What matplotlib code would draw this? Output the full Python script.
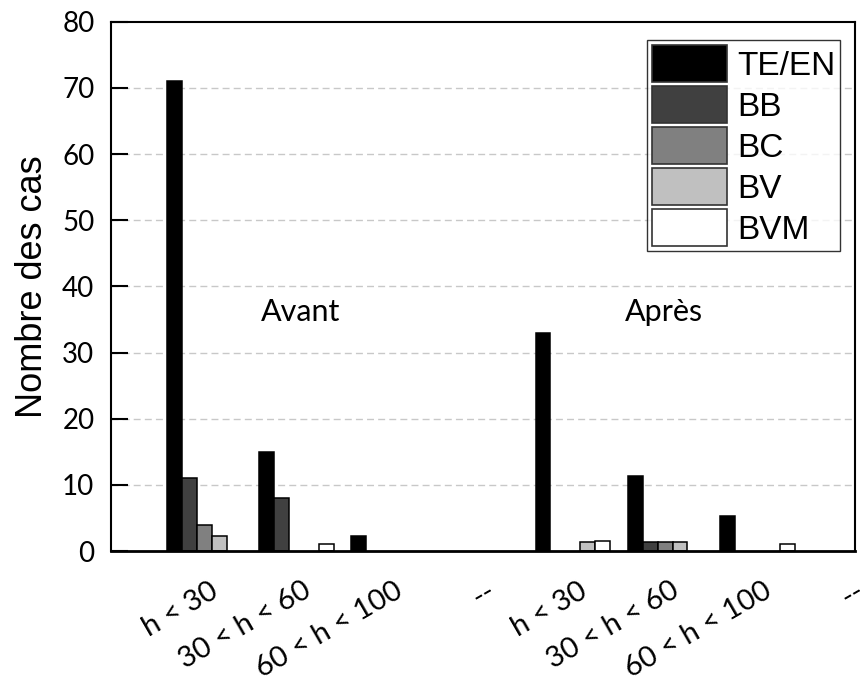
import matplotlib
matplotlib.use("Agg")
import matplotlib.pyplot as plt
import numpy as np

# categories (two periods, separated by a "--" gap group)
categories = ['h < 30', '30 < h < 60', '60 < h < 100', '--',
              'h < 30', '30 < h < 60', '60 < h < 100', '--']
series = ['TE/EN', 'BB', 'BC', 'BV', 'BVM']
colors = ['#000000', '#404040', '#808080', '#c0c0c0', '#ffffff']

te_en = [71, 15, 2.3, 0, 33, 11.3, 5.3, 0]
bb = [11, 8, 0, 0, 0, 1.3, 0, 0]
bc = [4, 0, 0, 0, 0, 1.3, 0, 0]
bv = [2.3, 0, 0, 0, 1.3, 1.3, 0, 0]
bvm = [0, 1, 0, 0, 1.5, 0, 1, 0]
values = [te_en, bb, bc, bv, bvm]

label_font = 'Lato'
arial = 'Liberation Sans'

fig = plt.figure(figsize=(8.61, 6.82), dpi=100)
ax = fig.add_axes([0.129, 0.192, 0.864, 0.776])

x = np.arange(len(categories))
w = 0.162
for j, (name, vals, c) in enumerate(zip(series, values, colors)):
    xs = x + (j - 2) * w
    vals = np.array(vals, dtype=float)
    mask = vals > 0
    ax.bar(xs[mask], vals[mask], width=w, color=c, edgecolor='black',
           linewidth=1.1, label=name, zorder=3)

ax.set_xlim(-1.01, 7.03)
ax.set_ylim(0, 80)
ax.set_yticks(range(0, 81, 10))
ax.set_yticklabels([str(v) for v in range(0, 81, 10)], fontfamily=label_font, fontsize=20)
ax.tick_params(axis='y', direction='in', length=12, width=1.5, pad=12)

# rotated category labels, nudged a little right of the group centre
ax.set_xticks(x + 0.06)
ax.set_xticklabels(categories, rotation=30, ha='right', rotation_mode='anchor',
                   fontfamily=label_font, fontsize=21)
ax.tick_params(axis='x', length=0, pad=19)

ax.set_ylabel('Nombre des cas', fontfamily=arial, fontsize=26, labelpad=9)

for yv in range(10, 80, 10):
    ax.axhline(yv, color='#c8c8c8', linestyle=(0, (5, 3)), linewidth=1, zorder=1)

for s in ['left', 'right', 'top']:
    ax.spines[s].set_linewidth(1.5)
ax.spines['bottom'].set_linewidth(2)
for s in ax.spines.values():
    s.set_zorder(4)

ax.text(1.05, 36.2, 'Avant', fontfamily=label_font, fontsize=22, ha='center', va='center')
ax.text(4.99, 36.2, 'Après', fontfamily=label_font, fontsize=22, ha='center', va='center')

leg = ax.legend(loc='upper right', bbox_to_anchor=(0.98, 0.965),
                prop={'family': arial, 'size': 24}, frameon=True, fancybox=False,
                borderpad=0.15, handlelength=2.25, handleheight=1.33,
                handletextpad=0.3, labelspacing=0.12, borderaxespad=0)
leg.get_frame().set_edgecolor('black')
leg.get_frame().set_linewidth(1)
for p in leg.get_patches():
    p.set_edgecolor('#333333')
    p.set_linewidth(1.2)

fig.savefig('out.png', dpi=100)
